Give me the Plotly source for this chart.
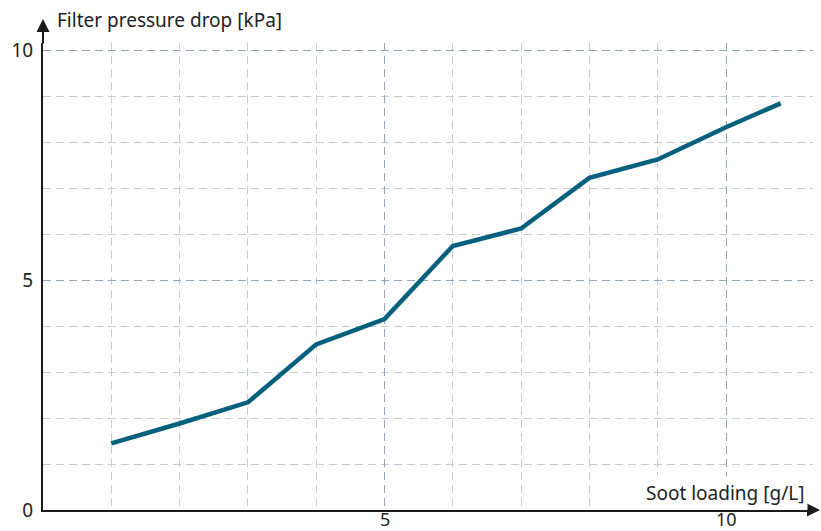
import plotly.graph_objects as go

# Data
soot_loading = [1, 2, 3, 4, 5, 6, 7, 8, 9, 10, 10.8]
pressure_drop = [1.45, 1.88, 2.34, 3.60, 4.15, 5.74, 6.12, 7.22, 7.62, 8.32, 8.84]
x_major_ticks = [5, 10]
x_minor_ticks = [1, 2, 3, 4, 6, 7, 8, 9]
y_major_ticks = [0, 5, 10]
y_minor_ticks = [1, 2, 3, 4, 6, 7, 8, 9]
x_title = "Soot loading [g/L]"
y_title = "Filter pressure drop [kPa]"

W, H = 821, 531
ML, MR, MT, MB = 43, 8, 43, 21
PW, PH = W - ML - MR, H - MT - MB
XU, YU = 68.3, 46.0

FONT = "Noto Sans"
LINE = "#04607c"
MINOR = "#c3cbd5"
MAJOR = "#93a4b7"
AXIS = "#1a1a1a"
TEXT = "#222222"
DASH = "8px,5px"

fig = go.Figure()
fig.add_trace(go.Scatter(
    x=soot_loading, y=pressure_drop, mode="lines",
    line=dict(color=LINE, width=4.5), hoverinfo="skip", showlegend=False,
))

fig.update_layout(
    width=W, height=H,
    margin=dict(l=ML, r=MR, t=MT, b=MB, pad=0, autoexpand=False),
    paper_bgcolor="white", plot_bgcolor="white",
    font=dict(family=FONT, size=19, color=TEXT),
    xaxis=dict(
        range=[0, PW / XU], tickmode="array", tickvals=x_major_ticks,
        showticklabels=False, automargin=False,
        showgrid=True, gridcolor=MAJOR, griddash=DASH, gridwidth=1.3,
        minor=dict(tickmode="array", tickvals=x_minor_ticks, showgrid=True,
                   gridcolor=MINOR, griddash=DASH, gridwidth=1.3, ticks=""),
        showline=True, linecolor=AXIS, linewidth=2, zeroline=False, ticks="",
    ),
    yaxis=dict(
        range=[0, PH / YU], tickmode="array", tickvals=y_major_ticks,
        ticktext=[str(v) for v in y_major_ticks], automargin=False,
        showgrid=True, gridcolor=MAJOR, griddash=DASH, gridwidth=1.3,
        minor=dict(tickmode="array", tickvals=y_minor_ticks, showgrid=True,
                   gridcolor=MINOR, griddash=DASH, gridwidth=1.3, ticks=""),
        showline=True, linecolor=AXIS, linewidth=2, zeroline=False,
        ticks="", ticklabelstandoff=4, tickfont=dict(size=19),
    ),
)

# x tick labels (placed just under the axis)
for v in x_major_ticks:
    fig.add_annotation(xref="x", yref="paper", x=v, y=0, yanchor="middle",
                       yshift=-9, text=str(v), showarrow=False,
                       font=dict(size=18, color=TEXT), borderpad=0)

# axis arrows
fig.add_annotation(xref="paper", yref="paper", x=0, y=1 + (MT - 19) / PH,
                   ax=0, ay=26, axref="pixel", ayref="pixel", text="",
                   showarrow=True, arrowhead=2, arrowsize=1.3, arrowwidth=2,
                   arrowcolor=AXIS)
fig.add_annotation(xref="paper", yref="paper", x=(820 - ML) / PW, y=0,
                   ax=-12, ay=0, text="",
                   showarrow=True, arrowhead=2, arrowsize=1.3, arrowwidth=2,
                   arrowcolor=AXIS)

# axis titles
fig.add_annotation(xref="paper", yref="paper", x=(55 - ML) / PW,
                   y=1 + (MT - 20) / PH, xanchor="left", yanchor="middle",
                   text=y_title, showarrow=False, font=dict(size=19))
fig.add_annotation(xref="paper", yref="paper", x=(808 - ML) / PW,
                   y=(H - MB - 493) / PH, xanchor="right", yanchor="middle",
                   text=x_title, showarrow=False, font=dict(size=19),
                   bgcolor="white", borderpad=3)

fig.write_html("out.html", config={"displayModeBar": False},
               post_script="document.body.style.margin='0';document.body.style.overflow='hidden';")
